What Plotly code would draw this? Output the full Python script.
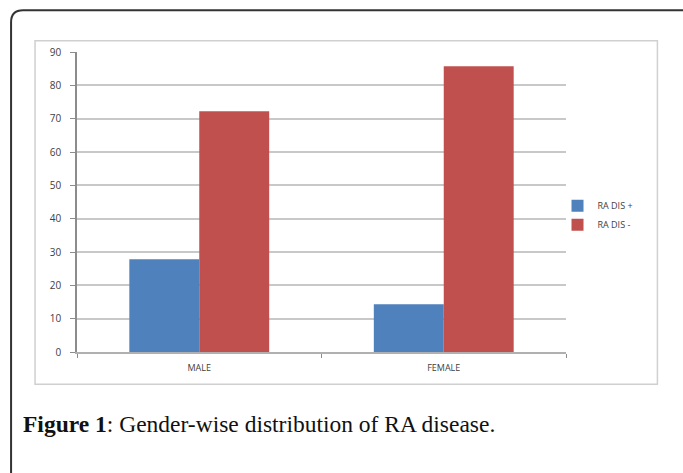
import plotly.graph_objects as go

categories = ["MALE", "FEMALE"]
ra_pos = [27.8, 14.3]
ra_neg = [72.2, 85.7]
y_ticks = [0, 10, 20, 30, 40, 50, 60, 70, 80, 90]

W, H = 683, 473
L, R, T, B = 77, 566.5, 51.7, 351.7

fig = go.Figure()
fig.add_bar(x=categories, y=ra_pos, name="RA DIS +", marker_color="#4F81BD",
            marker_line_width=0)
fig.add_bar(x=categories, y=ra_neg, name="RA DIS -", marker_color="#C0504D",
            marker_line_width=0)

# pixel -> paper (paper is the plot-area domain in plotly)
def px(x):
    return (x - L) / (R - L)

def py(y):
    return (B - y) / (B - T)

fig.update_layout(
    width=W, height=H,
    margin=dict(l=L, r=W - R, t=T, b=H - B, pad=0, autoexpand=False),
    paper_bgcolor="white", plot_bgcolor="white",
    barmode="group", bargap=0.428, bargroupgap=0,
    showlegend=True,
    legend=dict(x=px(558), y=py(191), xanchor="left", yanchor="top",
                font=dict(family="Open Sans", size=9, color="#404040"),
                bgcolor="rgba(0,0,0,0)", tracegroupgap=0,
                traceorder="normal"),
    font=dict(family="Open Sans", size=9, color="#404040"),
    yaxis=dict(range=[0, 90], tickvals=y_ticks, showgrid=True, gridcolor="#C8C8C8",
               gridwidth=1.5, zeroline=False, showline=True, linecolor="#8C8C8C",
               linewidth=1.5, ticks="outside", ticklen=5, tickcolor="#8C8C8C",
               tickfont=dict(family="Open Sans", size=10, color="#404040"),
               ticklabelstandoff=7, fixedrange=True),
    xaxis=dict(showline=True, linecolor="#B0B0B0", linewidth=1.5, ticks="outside",
               tickson="boundaries", ticklen=4, tickcolor="#8C8C8C",
               tickfont=dict(family="Open Sans", size=9, color="#404040"),
               ticklabelstandoff=6, showgrid=False, fixedrange=True),
    shapes=[
        dict(type="rect", xref="paper", yref="paper", x0=px(35), x1=px(658),
             y0=py(384), y1=py(40.5), line=dict(color="#D0D0D0", width=1.5),
             fillcolor="rgba(0,0,0,0)", layer="below"),
        dict(type="path", xref="paper", yref="paper",
             path=f"M {px(11)},{py(480)} L {px(11)},{py(22)} Q {px(11)},{py(10)} {px(23)},{py(10)} L {px(690)},{py(10)}",
             line=dict(color="#333333", width=2)),
    ],
    annotations=[
        dict(xref="paper", yref="paper", x=px(21), y=py(424), xanchor="left",
             yanchor="middle", showarrow=False,
             text="<b>Figure 1</b>: Gender-wise distribution of RA disease.",
             font=dict(family="Liberation Serif", size=23.5, color="#111111")),
    ],
)

fig.write_html("out.html",
               config={"displayModeBar": False},
               post_script="document.body.style.margin='0';document.body.style.padding='0';")
